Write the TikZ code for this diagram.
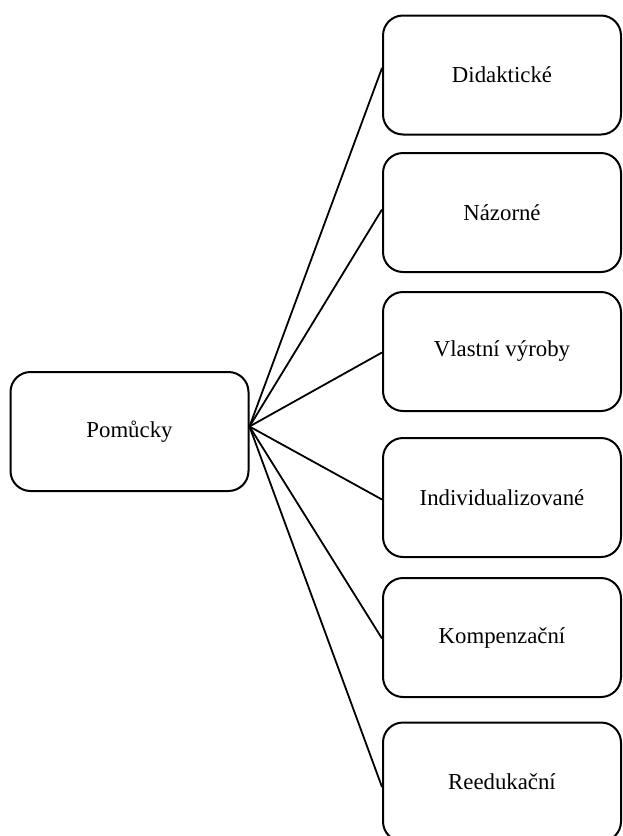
\documentclass[tikz,border=0pt]{standalone}
\usepackage{fontspec}
\setmainfont{Liberation Serif}
\usepackage{tikz}
\usetikzlibrary{positioning}
\tikzstyle{link} = [line width=0.9pt, color=black]
\tikzstyle{rootbox} = [rectangle, rounded corners=10pt, minimum width=119pt, minimum height=59.5pt, text centered, draw=black, line width=1pt, font=\fontsize{11.4}{13.7}\selectfont]
\tikzstyle{itembox} = [rootbox]

\begin{document}
\begin{tikzpicture}[x=0.5pt, y=-0.5pt]
\useasboundingbox (0,0) rectangle (622,836);
% Main category
\node (pomucky) [rootbox] at (129.5,431.5) {Pomůcky};

% Kinds of aids
\node (didakticke) [itembox] at (502,75) {Didaktické};
\node (nazorne) [itembox, below of=didakticke, node distance=68.75pt] {Názorné};
\node (vyroby) [itembox, below of=nazorne, node distance=69.5pt] {Vlastní výroby};
\node (individ) [itembox, below of=vyroby, node distance=73pt] {Individualizované};
\node (kompenz) [itembox, below of=individ, node distance=70pt] {Kompenzační};
\node (reeduk) [itembox, below of=kompenz, node distance=72.25pt] {Reedukační};

% Connections
\draw[link] ([yshift=2.5pt]pomucky.east) -- ([yshift=3.5pt]didakticke.west);
\draw[link] ([yshift=2.5pt]pomucky.east) -- ([yshift=1.5pt]nazorne.west);
\draw[link] ([yshift=2.5pt]pomucky.east) -- ([yshift=-0.5pt]vyroby.west);
\draw[link] ([yshift=2.5pt]pomucky.east) -- ([yshift=-1pt]individ.west);
\draw[link] ([yshift=2.5pt]pomucky.east) -- ([yshift=-0.5pt]kompenz.west);
\draw[link] ([yshift=2.5pt]pomucky.east) -- ([yshift=-2.5pt]reeduk.west);
\end{tikzpicture}
\end{document}
